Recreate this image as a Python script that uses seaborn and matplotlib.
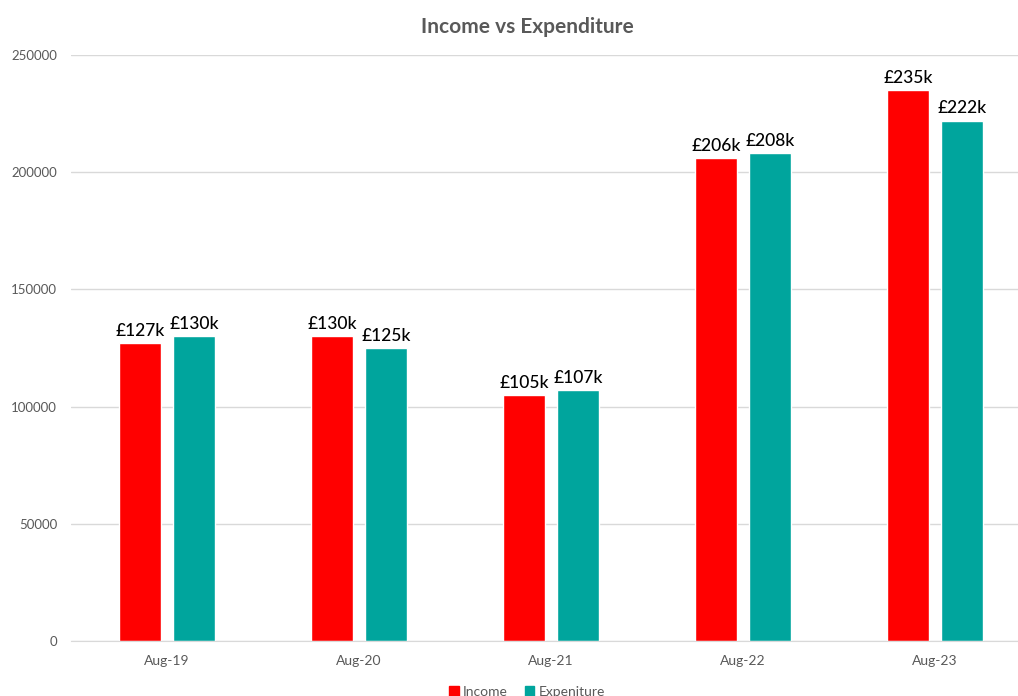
import matplotlib
matplotlib.use('Agg')
import matplotlib.pyplot as plt
import seaborn as sns
import pandas as pd
import numpy as np

# Datos
periods = ['Aug-19', 'Aug-20', 'Aug-21', 'Aug-22', 'Aug-23']
income = [127000, 130000, 105000, 206000, 235000]
expenditure = [130000, 125000, 107000, 208000, 222000]
series_names = ['Income', 'Expeniture']
colors = ['#FF0000', '#00A59D']

df = pd.DataFrame({
    'period': periods * 2,
    'value': income + expenditure,
    'series': [series_names[0]] * len(periods) + [series_names[1]] * len(periods),
})

sns.set_style('white')
plt.rcParams['font.family'] = ['Lato', 'DejaVu Sans']

fig = plt.figure(figsize=(10.18, 6.96), dpi=100)
W, H = 1018, 696
# el área del gráfico sale por la derecha (recortado en la referencia)
ax = fig.add_axes([71 / W, (H - 641) / H, 960 / W, (641 - 55) / H])

sns.barplot(data=df, x='period', y='value', hue='series', palette=colors,
            width=0.56, gap=0.21, ax=ax, legend=False, saturation=1)

for cont in ax.containers:
    labels = [f'£{int(round(v.get_height() / 1000))}k' for v in cont]
    ax.bar_label(cont, labels=labels, padding=3, fontsize=12.5, color='black',
                 fontweight='medium')

ax.set_xlim(-0.5, len(periods) - 0.5)
ax.set_ylim(0, 250000)
ax.set_yticks(np.arange(0, 250001, 50000))
ax.yaxis.grid(True, color='#D9D9D9', linewidth=1)
ax.set_axisbelow(True)
for s in ['top', 'right', 'left']:
    ax.spines[s].set_visible(False)
ax.spines['bottom'].set_color('#D9D9D9')
ax.tick_params(axis='y', length=0, labelsize=9.5, labelcolor='#595959', pad=10)
ax.tick_params(axis='x', length=0, labelsize=10, labelcolor='#595959', pad=10)
# marcas entre categorías
ax.set_xticks(np.arange(-0.5, len(periods), 1), minor=True)
ax.tick_params(axis='x', which='minor', length=5, color='#D9D9D9', width=1)
ax.set_xlabel('')
ax.set_ylabel('')

fig.text(527 / W, 1 - 27 / H, 'Income vs Expenditure', ha='center', va='center',
         fontsize=15, fontweight='bold', color='#595959')

handles = [plt.Rectangle((0, 0), 1, 1, color=c) for c in colors]
fig.legend(handles, series_names, loc='center', bbox_to_anchor=(527 / W, 1 - 692 / H),
           ncol=2, frameon=False, fontsize=10, labelcolor='#595959',
           handlelength=0.7, handleheight=0.7, handletextpad=0.3, columnspacing=1.2)

fig.savefig('out.png', dpi=100)
